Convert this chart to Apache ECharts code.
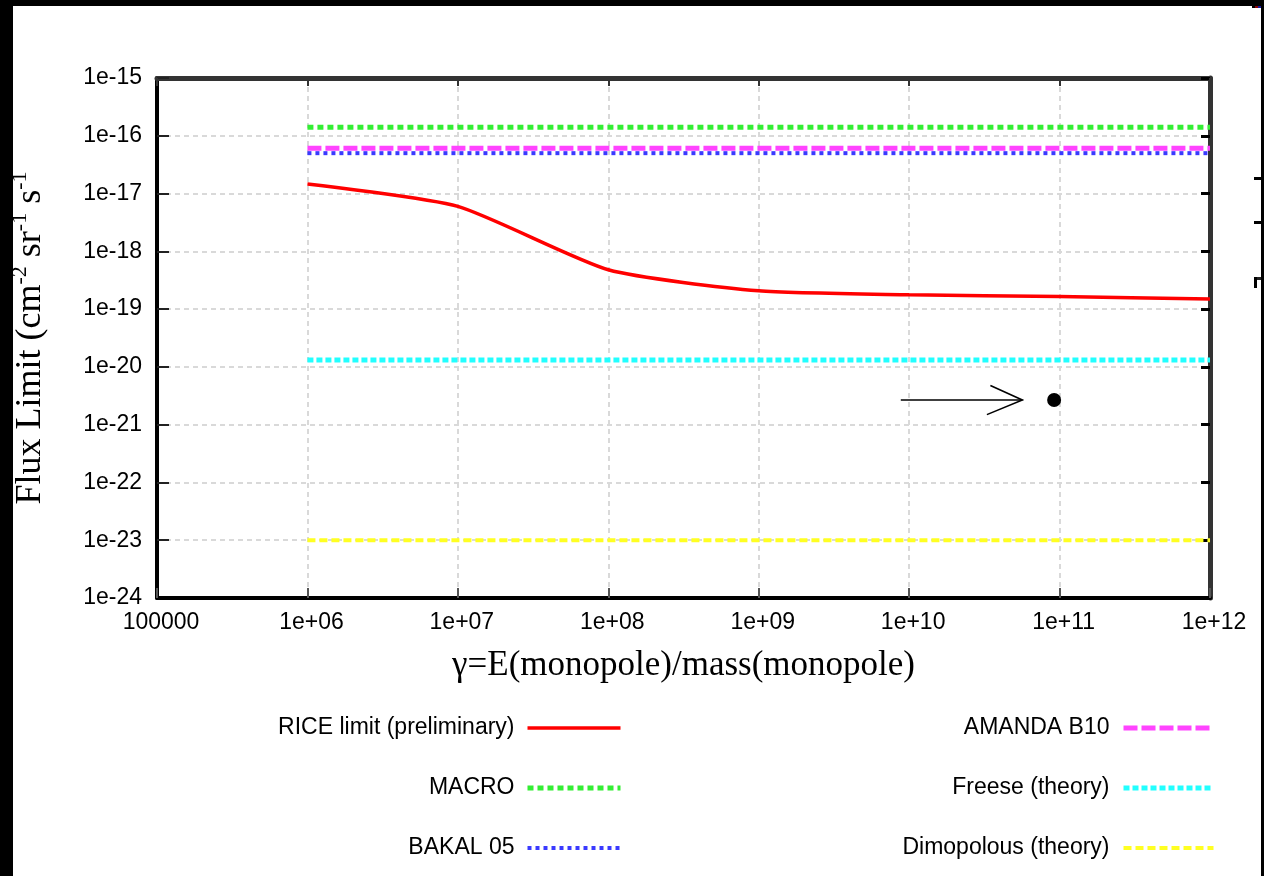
<!DOCTYPE html>
<html>
<head>
<meta charset="utf-8">
<style>
  html, body { margin: 0; padding: 0; background: #fff; }
  #chart { width: 1264px; height: 876px; }
</style>
<script src="https://cdn.jsdelivr.net/npm/echarts@6/dist/echarts.min.js"></script>
</head>
<body>
<div id="chart"></div>
<script>
// ---- data ----
const xTickLabels = ['100000', '1e+06', '1e+07', '1e+08', '1e+09', '1e+10', '1e+11', '1e+12'];
const yTickLabels = ['1e-15', '1e-16', '1e-17', '1e-18', '1e-19', '1e-20', '1e-21', '1e-22', '1e-23', '1e-24'];

const gammaValues = [1e6, 1e7, 1e8, 1e9, 1e10, 1e11, 1e12];
const riceLimit = [1.47e-17, 6.0e-18, 4.8e-19, 2.07e-19, 1.77e-19, 1.65e-19, 1.49e-19];

const flatRange = [1e6, 1e12];
const macroLimit = 1.4e-16;
const amandaLimit = 6.1e-17;
const bakalLimit = 5.0e-17;
const freeseTheory = 1.31e-20;
const dimopoulosTheory = 1.0e-23;

const pointValue = [9.2e10, 2.68e-21];
const arrowStart = [8.8e9, 2.68e-21];
const arrowEnd = [5.66e10, 2.68e-21];

const seriesNames = ['RICE limit (preliminary)', 'MACRO', 'BAKAL 05', 'AMANDA B10', 'Freese (theory)', 'Dimopolous (theory)'];

const xMin = 1e5, xMax = 1e12, yMin = 1e-24, yMax = 1e-15;
const yExpMin = -24, yExpMax = -15;

function flat(v) { return flatRange.map(x => [x, v]); }

function xLabel(v) {
  const e = (v > 0 && isFinite(v)) ? Math.round(Math.log10(v)) : Math.round(Math.log10(xMin));
  const lbl = xTickLabels[e - Math.round(Math.log10(xMin))];
  return lbl === undefined ? '' : lbl;
}
function yExpLabel(e) {
  const lbl = yTickLabels[yExpMax - Math.round(e)];
  return lbl === undefined ? '' : lbl;
}

const chart = echarts.init(document.getElementById('chart'), null, { renderer: 'canvas' });

const sansFont = 'Liberation Sans';
const serifFont = 'Liberation Serif';

const legendCommon = {
  orient: 'vertical', align: 'right', top: 716, padding: 0,
  itemHeight: 14, itemGap: 36,
  lineStyle: { width: 'inherit' },
  itemStyle: { color: 'rgba(0,0,0,0)', borderColor: 'rgba(0,0,0,0)', borderWidth: 0, opacity: 0 }
};

const option = {
  backgroundColor: '#ffffff',
  animation: false,
  grid: { left: 157, top: 78, right: 54, bottom: 278, containLabel: false, outerBoundsMode: 'none' },
  xAxis: [
    {
      type: 'log', logBase: 10, min: xMin, max: xMax, splitNumber: 7,
      position: 'bottom',
      name: 'γ=E(monopole)/mass(monopole)',
      nameLocation: 'middle', nameGap: 50, nameMoveOverlap: false,
      nameTextStyle: { fontFamily: serifFont, fontSize: 35, color: '#000' },
      axisLine: { show: true, onZero: false, lineStyle: { color: '#000', width: 4 } },
      axisTick: { show: true, inside: true, length: 10, lineStyle: { color: '#555', width: 2 } },
      axisLabel: {
        margin: 16, fontFamily: sansFont, fontSize: 23, lineHeight: 18, color: '#000', padding: [0, 0, 0, 8],
        showMinLabel: true, showMaxLabel: true, hideOverlap: false,
        formatter: xLabel
      },
      splitLine: { show: true, lineStyle: { color: '#d9d9d9', width: 2, type: [5, 4] } }
    },
    {
      type: 'log', logBase: 10, min: xMin, max: xMax, splitNumber: 7,
      position: 'top',
      axisLine: { show: true, onZero: false, lineStyle: { color: '#333', width: 5 } },
      axisTick: { show: true, inside: true, length: 8, lineStyle: { color: '#333', width: 2 } },
      axisLabel: { show: false },
      splitLine: { show: false }
    }
  ],
  yAxis: [
    {
      type: 'log', logBase: 10, min: yMin, max: yMax, splitNumber: 9,
      position: 'left',
      name: '{a|Flux Limit (cm}{s|-2}{a| sr}{s|-1}{a| s}{s|-1}',
      nameLocation: 'middle', nameGap: 108, nameRotate: 90,
      nameMoveOverlap: false,
      nameTextStyle: {
        color: '#000',
        rich: {
          a: { fontFamily: serifFont, fontSize: 36, color: '#000', lineHeight: 40, verticalAlign: 'bottom' },
          s: { fontFamily: serifFont, fontSize: 22, color: '#000', lineHeight: 40, verticalAlign: 'top' }
        }
      },
      axisLine: { show: true, onZero: false, lineStyle: { color: '#000', width: 4 } },
      axisTick: { show: true, inside: true, length: 12, lineStyle: { color: '#222', width: 2 } },
      axisLabel: { show: false },
      splitLine: { show: true, lineStyle: { color: '#d9d9d9', width: 2, type: [5, 4] } }
    },
    {
      type: 'log', logBase: 10, min: yMin, max: yMax, splitNumber: 9,
      position: 'right',
      axisLine: { show: true, onZero: false, lineStyle: { color: '#333', width: 5 } },
      axisTick: { show: true, inside: true, length: 9, lineStyle: { color: '#000', width: 3 } },
      axisLabel: { show: false },
      splitLine: { show: false }
    },
    {
      // exponent axis used only to print the decade labels of the log axis
      type: 'value', min: yExpMin, max: yExpMax, interval: 1,
      position: 'left', offset: 0,
      axisLine: { show: false, onZero: false },
      axisTick: { show: false },
      splitLine: { show: false },
      axisLabel: {
        margin: 15, fontFamily: sansFont, fontSize: 23, lineHeight: 18, color: '#000',
        showMinLabel: true, showMaxLabel: true, hideOverlap: false,
        formatter: yExpLabel
      }
    }
  ],
  legend: [
    Object.assign({}, legendCommon, {
      data: seriesNames.slice(0, 3),
      right: 641, itemWidth: 93,
      textStyle: { fontFamily: sansFont, fontSize: 23, color: '#000', lineHeight: 24, padding: [0, 8, 0, 0] }
    }),
    Object.assign({}, legendCommon, {
      data: seriesNames.slice(3, 6),
      right: 48, itemWidth: 90,
      textStyle: { fontFamily: sansFont, fontSize: 23, color: '#000', lineHeight: 24, padding: [0, 9, 0, 0] }
    })
  ],
  series: [
    {
      name: seriesNames[1], type: 'line', symbol: 'none',
      data: flat(macroLimit),
      lineStyle: { color: '#33ee33', width: 5, type: [6, 4] }, itemStyle: { color: '#33ee33' }
    },
    {
      name: seriesNames[3], type: 'line', symbol: 'none',
      data: flat(amandaLimit),
      lineStyle: { color: '#ff44ff', width: 5, type: [14, 4] }, itemStyle: { color: '#ff44ff' }
    },
    {
      name: seriesNames[2], type: 'line', symbol: 'none',
      data: flat(bakalLimit),
      lineStyle: { color: '#3a3aff', width: 4, type: [4, 4] }, itemStyle: { color: '#3a3aff' }
    },
    {
      name: seriesNames[4], type: 'line', symbol: 'none',
      data: flat(freeseTheory),
      lineStyle: { color: '#22ffff', width: 5, type: [6, 3] }, itemStyle: { color: '#22ffff' }
    },
    {
      name: seriesNames[5], type: 'line', symbol: 'none',
      data: flat(dimopoulosTheory),
      lineStyle: { color: '#ffff22', width: 4, type: [8, 4] }, itemStyle: { color: '#ffff22' }
    },
    {
      name: seriesNames[0], type: 'line', symbol: 'none', smooth: 0.2,
      data: gammaValues.map((x, i) => [x, riceLimit[i]]),
      lineStyle: { color: '#ff0000', width: 3.5 }, itemStyle: { color: '#ff2020' }, z: 5
    },
    {
      name: 'point', type: 'scatter', symbol: 'circle', symbolSize: 14,
      data: [pointValue], itemStyle: { color: '#000', opacity: 1 }, z: 6
    },
    {
      name: 'arrow', type: 'custom',
      data: [[arrowStart[0], arrowStart[1], arrowEnd[0], arrowEnd[1]]],
      encode: { x: [0, 2], y: [1, 3] },
      renderItem: function (params, api) {
        const p0 = api.coord([api.value(0), api.value(1)]);
        const p1 = api.coord([api.value(2), api.value(3)]);
        return {
          type: 'group',
          children: [
            { type: 'line', shape: { x1: p0[0], y1: p0[1], x2: p1[0], y2: p1[1] },
              style: { stroke: '#000', lineWidth: 1.6 } },
            { type: 'polyline', shape: { points: [[p1[0] - 32, p1[1] - 14.5], [p1[0], p1[1]], [p1[0] - 35.5, p1[1] + 14.7]] },
              style: { stroke: '#000', fill: null, lineWidth: 1.6 } }
          ]
        };
      },
      z: 6
    }
  ],
  graphic: [
    { type: 'rect', z: 100, shape: { x: 0, y: 0, width: 1264, height: 6 }, style: { fill: '#000' } },
    { type: 'rect', z: 100, shape: { x: 0, y: 0, width: 13, height: 876 }, style: { fill: '#000' } },
    { type: 'rect', z: 100, shape: { x: 1261, y: 0, width: 3, height: 876 }, style: { fill: '#000' } },
    { type: 'rect', z: 100, shape: { x: 1254, y: 177, width: 7, height: 3 }, style: { fill: '#000' } },
    { type: 'rect', z: 100, shape: { x: 1254, y: 221, width: 7, height: 3 }, style: { fill: '#000' } },
    { type: 'rect', z: 100, shape: { x: 1254, y: 277, width: 7, height: 3 }, style: { fill: '#222' } },
    { type: 'rect', z: 100, shape: { x: 1254, y: 277, width: 3, height: 11 }, style: { fill: '#000' } },
    { type: 'rect', z: 100, shape: { x: 1252, y: 6, width: 3, height: 2 }, style: { fill: '#000' } },
    { type: 'rect', z: 100, shape: { x: 1255, y: 6, width: 3, height: 2 }, style: { fill: '#8b0000' } },
    { type: 'rect', z: 100, shape: { x: 1258, y: 6, width: 3, height: 2 }, style: { fill: '#1a1aa0' } }
  ]
};

chart.setOption(option);
</script>
</body>
</html>
